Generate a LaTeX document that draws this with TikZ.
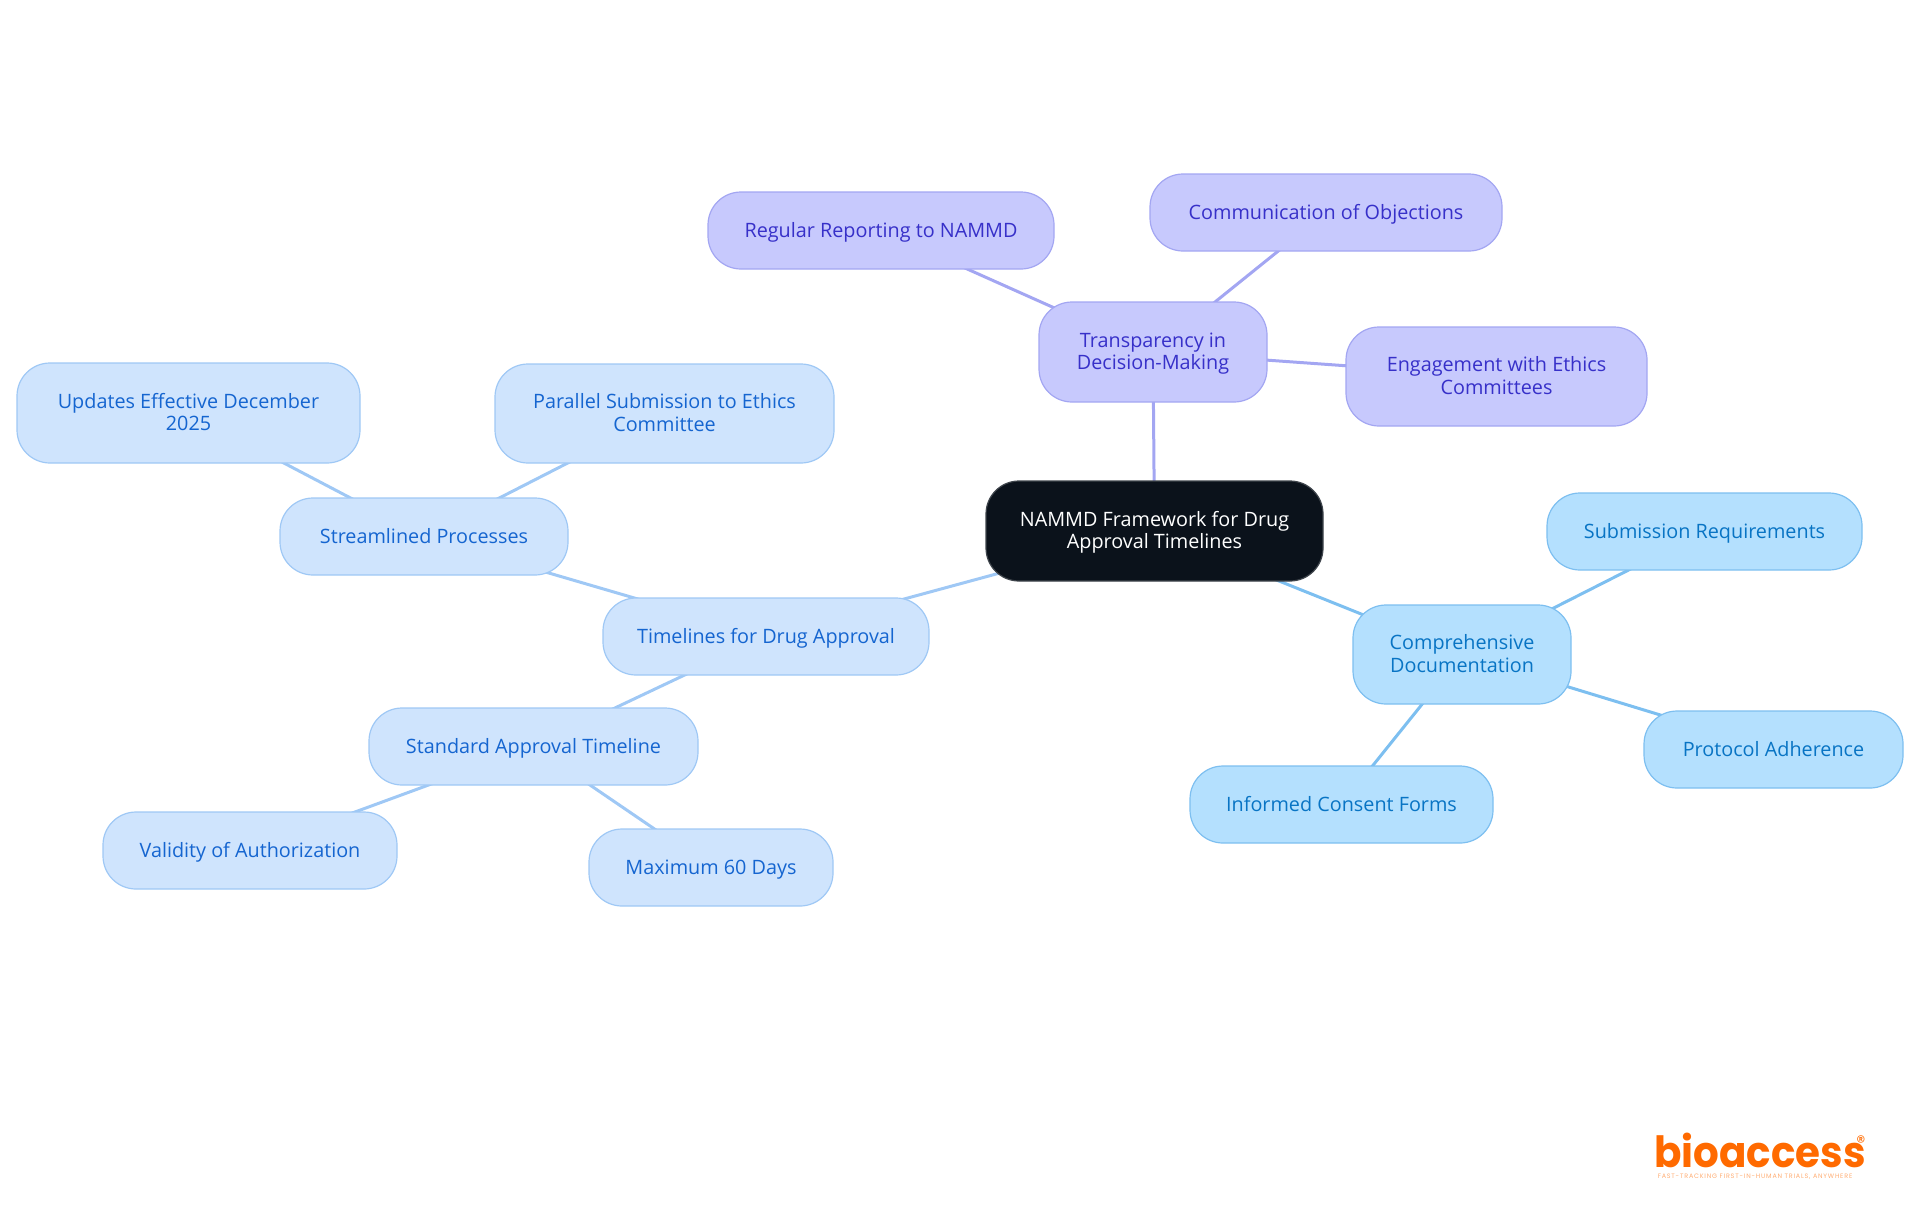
\documentclass[tikz,border=0pt]{standalone}
\usepackage{fontspec}
\setmainfont{Open Sans}
\newfontfamily\logofont[FakeStretch=0.94]{Poppins}
\newfontfamily\regfont{Poppins}
\newfontfamily\tagfont[LetterSpace=12.5]{Poppins}
\usetikzlibrary{backgrounds}
\definecolor{purpF}{HTML}{C7C9FD}
\definecolor{purpD}{HTML}{A3A6F2}
\definecolor{purpT}{HTML}{3730C9}
\definecolor{blueF}{HTML}{CFE4FD}
\definecolor{blueD}{HTML}{9FC8F5}
\definecolor{blueT}{HTML}{1565D0}
\definecolor{skyF}{HTML}{B4E0FE}
\definecolor{skyD}{HTML}{7DBFF0}
\definecolor{skyT}{HTML}{0874C4}
\definecolor{rootF}{HTML}{0B121B}
\definecolor{rootD}{HTML}{3F454C}
\definecolor{logoC}{HTML}{FF6A00}
\tikzset{
  box/.style={rectangle,rounded corners=16.5pt,line width=0.6pt,inner sep=0pt,align=center,
    font=\fontsize{9.9}{11.25}\selectfont},
  purp/.style={box,fill=purpF,draw=purpD,text=purpT},
  blu/.style={box,fill=blueF,draw=blueD,text=blueT},
  sky/.style={box,fill=skyF,draw=skyD,text=skyT},
  rootbox/.style={box,fill=rootF,draw=rootD,text=white},
  purpL/.style={line width=1.5pt,draw=purpD},
  bluL/.style={line width=1.5pt,draw=blueD},
  skyL/.style={line width=1.5pt,draw=skyD},
}
% name, left, top, right, bottom, style, text
\newcommand{\mapnode}[7]{%
  \pgfmathsetmacro{\cxv}{(#2+#4)/2}\pgfmathsetmacro{\cyv}{-(#3+#5)/2}%
  \pgfmathsetmacro{\wv}{(#4-#2)*0.5}\pgfmathsetmacro{\hv}{(#5-#3)*0.5}%
  \node[#6,minimum width=\wv pt,minimum height=\hv pt] (#1) at (\cxv,\cyv)
    {\rule{0pt}{9.8pt}#7\rule[-3.3pt]{0pt}{3.3pt}};}
\begin{document}
\begin{tikzpicture}[x=0.5pt,y=0.5pt]
\useasboundingbox (0,0) rectangle (1920,-1215);
\mapnode{root}{986}{481}{1323}{581}{rootbox}{NAMMD Framework for Drug\\Approval Timelines}
\mapnode{trans}{1039}{302}{1267}{402}{purp}{Transparency in\\Decision-Making}
\mapnode{report}{708}{192}{1054}{269}{purp}{Regular Reporting to NAMMD}
\mapnode{objec}{1150}{174}{1502}{251}{purp}{Communication of Objections}
\mapnode{ethics}{1346}{327}{1647}{426}{purp}{Engagement with Ethics\\Committees}
\mapnode{docs}{1353}{605}{1571}{704}{sky}{Comprehensive\\Documentation}
\mapnode{subm}{1547}{493}{1862}{570}{sky}{Submission Requirements}
\mapnode{proto}{1644}{711}{1903}{788}{sky}{Protocol Adherence}
\mapnode{consent}{1190}{766}{1493}{843}{sky}{Informed Consent Forms}
\mapnode{time}{603}{598}{929}{675}{blu}{Timelines for Drug Approval}
\mapnode{stream}{280}{498}{568}{575}{blu}{Streamlined Processes}
\mapnode{updates}{17}{363}{360}{463}{blu}{Updates Effective December\\2025}
\mapnode{parallel}{495}{364}{834}{463}{blu}{Parallel Submission to Ethics\\Committee}
\mapnode{standard}{369}{708}{698}{785}{blu}{Standard Approval Timeline}
\mapnode{validity}{103}{812}{397}{889}{blu}{Validity of Authorization}
\mapnode{maxdays}{589}{829}{833}{906}{blu}{Maximum 60 Days}
\begin{scope}[on background layer]
\draw[purpL] (root.center) -- (trans.center);
\draw[purpL] (trans.center) -- (report.center);
\draw[purpL] (trans.center) -- (objec.center);
\draw[purpL] (trans.center) -- (ethics.center);
\draw[skyL] (root.center) -- (docs.center);
\draw[skyL] (docs.center) -- (subm.center);
\draw[skyL] (docs.center) -- (proto.center);
\draw[skyL] (docs.center) -- (consent.center);
\draw[bluL] (root.center) -- (time.center);
\draw[bluL] (time.center) -- (stream.center);
\draw[bluL] (stream.center) -- (updates.center);
\draw[bluL] (stream.center) -- (parallel.center);
\draw[bluL] (time.center) -- (standard.center);
\draw[bluL] (standard.center) -- (validity.center);
\draw[bluL] (standard.center) -- (maxdays.center);
\end{scope}
\node[anchor=base west,inner sep=0pt,text depth=0pt,text=logoC,font=\logofont\bfseries\fontsize{21.5}{21.5}\selectfont] (logo) at (1654,-1167) {bioaccess};
\node[inner sep=0pt,text=logoC,font=\regfont\fontsize{9}{9}\selectfont] (reg) at (1861,-1142) {®};
\node[inner sep=0pt,text=logoC!55,font=\tagfont\fontsize{3.2}{3.2}\selectfont] (tag) at (1755,-1177) {FAST-TRACKING FIRST-IN-HUMAN TRIALS, ANYWHERE};
\end{tikzpicture}
\end{document}
